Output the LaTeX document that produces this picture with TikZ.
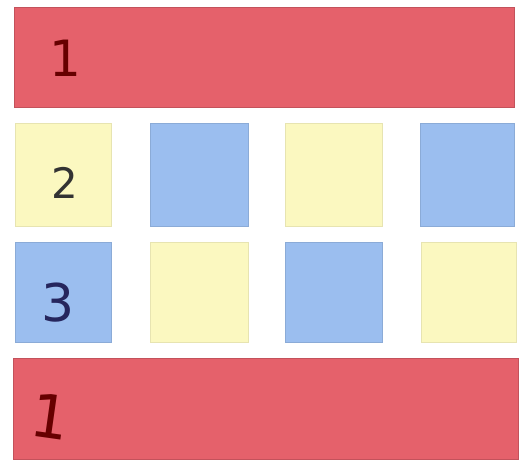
\documentclass[tikz,border=0pt]{standalone}
\usepackage{fontspec}
\setmainfont{DejaVu Sans}
\definecolor{cred}{HTML}{E5616B}
\definecolor{cyel}{HTML}{FBF8C0}
\definecolor{cblue}{HTML}{9BBEEF}
\begin{document}
\begin{tikzpicture}[x=1pt,y=-1pt,
  tile/.style={rectangle,inner sep=0pt,outer sep=0pt,line width=0.4pt},
  redbar/.style={tile,fill=cred,draw=cred!85!black},
  yel/.style={tile,fill=cyel,draw=cyel!92!black},
  blu/.style={tile,fill=cblue,draw=cblue!90!black},
  lab/.style={inner sep=0pt,font=\fontsize{46}{46}\selectfont}]
\useasboundingbox (0,0) rectangle (525,462);
\node[redbar,minimum width=500pt,minimum height=100pt] (top) at (264,57) {};
\node[yel,minimum width=96pt,minimum height=103pt] (a1) at (63,174.5) {};
\node[blu,minimum width=98pt,minimum height=103pt] (a2) at (199,174.5) {};
\node[yel,minimum width=97pt,minimum height=103pt] (a3) at (333.5,174.5) {};
\node[blu,minimum width=94pt,minimum height=103pt] (a4) at (467,174.5) {};
\node[blu,minimum width=96pt,minimum height=100pt] (b1) at (63,292) {};
\node[yel,minimum width=98pt,minimum height=100pt] (b2) at (199,292) {};
\node[blu,minimum width=97pt,minimum height=100pt] (b3) at (333.5,292) {};
\node[yel,minimum width=95pt,minimum height=100pt] (b4) at (468.5,292) {};
\node[redbar,minimum width=505pt,minimum height=101pt] (bot) at (265.5,408.5) {};
\node[lab,text=red!40!black,font=\fontsize{50}{50}\selectfont] (l1) at (65,58) {1};
\node[lab,text=black!80,font=\fontsize{42}{42}\selectfont] (l2) at (65,183) {2};
\node[lab,text=blue!25!black!85,font=\fontsize{52}{52}\selectfont] (l3) at (58,303) {3};
\node[lab,text=red!40!black,rotate=-8,font=\fontsize{60}{60}\selectfont] (l4) at (50,416) {1};
\end{tikzpicture}
\end{document}
